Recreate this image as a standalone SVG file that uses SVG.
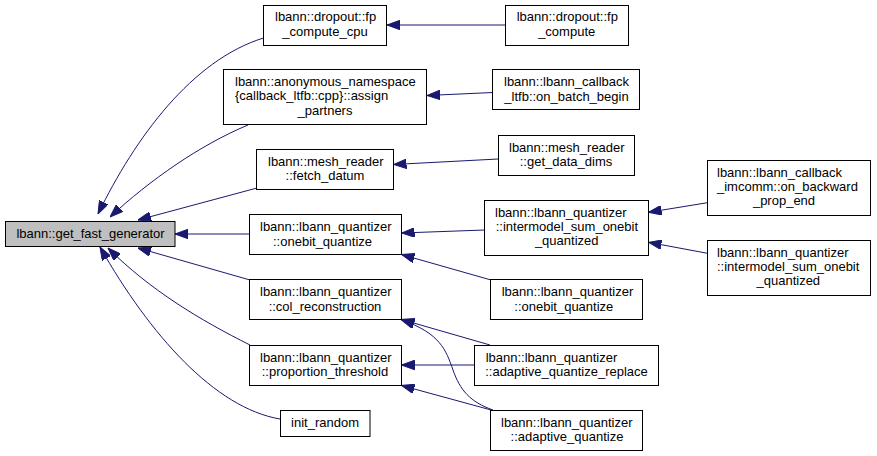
<svg xmlns="http://www.w3.org/2000/svg" width="877" height="456" viewBox="0 0 877 456">
<style>
.n rect{fill:#ffffff;stroke:#000000;stroke-width:1}
#n0 rect{fill:#bfbfbf}
.n text{font-family:"Liberation Sans",Arial,Helvetica,sans-serif;font-size:13px;fill:#000000}
.m{text-anchor:middle}
.e path{fill:none;stroke:#191970;stroke-width:1;marker-end:url(#ah)}
</style>
<defs>
<marker id="ah" markerUnits="userSpaceOnUse" viewBox="0 0 13 9.5" refX="13" refY="4.75" markerWidth="13" markerHeight="9.5" orient="auto">
<path d="M0,0 L13,4.75 L0,9.5 Z" fill="#191970" stroke="#191970" stroke-width="1"/>
</marker>
</defs>
<rect width="877" height="456" fill="#ffffff"/>
<g id="edges" class="e">
<path d="M263.5,38 C192,60 135,138 98,214"/>
<path d="M248,125 C200,145 150,180 110,217"/>
<path d="M257,188 L138,220"/>
<path d="M249,234 L175,234"/>
<path d="M250,280 L138,248"/>
<path d="M250,345 C200,320 150,290 108,248"/>
<path d="M280,419 C215,408 150,335 100,247"/>
<path d="M505,25 L387,25"/>
<path d="M492.5,92.5 L427,95.5"/>
<path d="M498,159 L393.5,164.5"/>
<path d="M484.5,230 L401.5,233"/>
<path d="M491,280 L401.5,254.5"/>
<path d="M490,345 L401.5,319.5"/>
<path d="M493,410 C470,402 460,390 453,370 C446,350 440,333 401.5,320"/>
<path d="M474.5,365 L401.5,365"/>
<path d="M493,410.5 L401.5,385.5"/>
<path d="M707.5,202.7 L648.5,212.3"/>
<path d="M707.5,253.3 L648.5,242.3"/>
</g>
<g id="n0" class="n"><rect x="5.5" y="221.5" width="169.5" height="25"/><text class="m" x="90.5" y="238">lbann::get_fast_generator</text></g>
<g id="n1" class="n"><rect x="263.5" y="5.5" width="123" height="40"/><text x="275" y="21">lbann::dropout::fp</text><text class="m" x="325" y="35.5">_compute_cpu</text></g>
<g id="n2" class="n"><rect x="223.5" y="69.5" width="203" height="55"/><text x="235" y="86">lbann::anonymous_namespace</text><text x="235" y="100.3">{callback_ltfb::cpp}::assign</text><text class="m" x="325" y="114.6">_partners</text></g>
<g id="n3" class="n"><rect x="256.5" y="149.5" width="137" height="40"/><text x="268" y="165.7">lbann::mesh_reader</text><text class="m" x="325" y="180">::fetch_datum</text></g>
<g id="n4" class="n"><rect x="249.5" y="214.5" width="152" height="40"/><text x="260" y="231.3">lbann::lbann_quantizer</text><text class="m" x="322.5" y="245.6">::onebit_quantize</text></g>
<g id="n5" class="n"><rect x="249.5" y="279.5" width="152" height="40"/><text x="260" y="296.3">lbann::lbann_quantizer</text><text class="m" x="325" y="310.6">::col_reconstruction</text></g>
<g id="n6" class="n"><rect x="249.5" y="345.5" width="152" height="40"/><text x="260" y="361.5">lbann::lbann_quantizer</text><text class="m" x="325" y="375.8">::proportion_threshold</text></g>
<g id="n7" class="n"><rect x="280.5" y="410.5" width="89.5" height="26"/><text class="m" x="325" y="427">init_random</text></g>
<g id="n8" class="n"><rect x="505.5" y="5.5" width="123" height="40"/><text x="516.7" y="21">lbann::dropout::fp</text><text class="m" x="566.7" y="35.5">_compute</text></g>
<g id="n9" class="n"><rect x="492.5" y="69.5" width="147" height="40"/><text x="504" y="86.3">lbann::lbann_callback</text><text class="m" x="566.5" y="100.6">_ltfb::on_batch_begin</text></g>
<g id="n10" class="n"><rect x="498.5" y="135.5" width="136" height="40"/><text x="509" y="151.5">lbann::mesh_reader</text><text class="m" x="566" y="165.8">::get_data_dims</text></g>
<g id="n11" class="n"><rect x="484.5" y="200.5" width="164" height="55"/><text x="495" y="216.5">lbann::lbann_quantizer</text><text x="495.7" y="230.8">::intermodel_sum_onebit</text><text class="m" x="566.7" y="245.1">_quantized</text></g>
<g id="n12" class="n"><rect x="707.5" y="160.5" width="163" height="55"/><text x="717" y="176.7">lbann::lbann_callback</text><text x="717" y="191">_imcomm::on_backward</text><text class="m" x="784" y="205.3">_prop_end</text></g>
<g id="n13" class="n"><rect x="707.5" y="240.5" width="163" height="55"/><text x="717" y="256.7">lbann::lbann_quantizer</text><text x="717" y="271">::intermodel_sum_onebit</text><text class="m" x="788.3" y="285.3">_quantized</text></g>
<g id="n14" class="n"><rect x="490.5" y="279.5" width="152" height="40"/><text x="501.7" y="296.3">lbann::lbann_quantizer</text><text class="m" x="563.8" y="310.6">::onebit_quantize</text></g>
<g id="n15" class="n"><rect x="474.5" y="345.5" width="184" height="40"/><text x="485.7" y="361.5">lbann::lbann_quantizer</text><text class="m" x="566.5" y="375.8">::adaptive_quantize_replace</text></g>
<g id="n16" class="n"><rect x="490.5" y="410.5" width="152" height="40"/><text x="501" y="427">lbann::lbann_quantizer</text><text class="m" x="567" y="441.3">::adaptive_quantize</text></g>
</svg>
